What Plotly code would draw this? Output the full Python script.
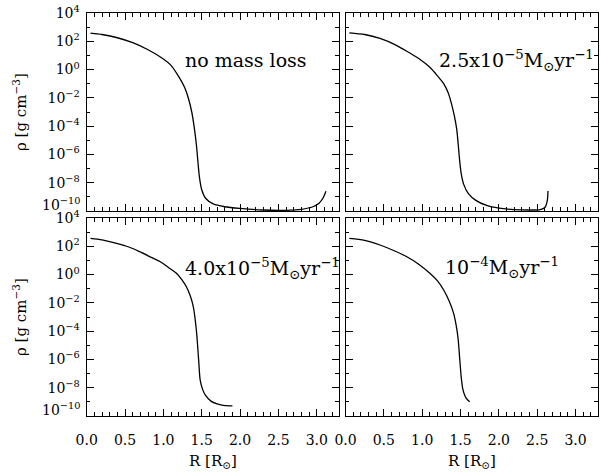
import plotly.graph_objects as go

# ---- data (R in solar radii, log10 of density in g cm^-3) ----
r_nomass = [0.05, 0.20, 0.40, 0.60, 0.80, 1.00, 1.10, 1.20, 1.28, 1.33, 1.37, 1.40, 1.43, 1.45, 1.47, 1.50, 1.55, 1.65, 1.80, 2.00, 2.30, 2.60, 2.80, 2.95, 3.03, 3.08, 3.12]
logrho_nomass = [2.58, 2.48, 2.25, 1.90, 1.40, 0.75, 0.30, -0.50, -1.30, -2.10, -3.00, -4.00, -5.30, -6.50, -7.60, -8.50, -9.10, -9.50, -9.70, -9.82, -9.93, -9.95, -9.88, -9.70, -9.45, -9.10, -8.60]

r_25 = [0.05, 0.25, 0.45, 0.65, 0.80, 0.95, 1.10, 1.20, 1.28, 1.34, 1.38, 1.42, 1.45, 1.47, 1.49, 1.51, 1.54, 1.60, 1.70, 1.84, 2.00, 2.20, 2.40, 2.54, 2.60, 2.63, 2.64]
logrho_25 = [2.60, 2.48, 2.20, 1.75, 1.30, 0.80, 0.16, -0.45, -0.99, -1.65, -2.37, -3.30, -4.21, -5.30, -6.51, -7.40, -8.10, -8.75, -9.25, -9.61, -9.80, -9.90, -9.93, -9.90, -9.75, -9.30, -8.58]

r_40 = [0.05, 0.20, 0.39, 0.55, 0.69, 0.85, 0.96, 1.08, 1.17, 1.24, 1.30, 1.35, 1.39, 1.43, 1.46, 1.48, 1.51, 1.55, 1.62, 1.70, 1.78, 1.86, 1.90]
logrho_40 = [2.56, 2.45, 2.21, 1.95, 1.62, 1.20, 0.91, 0.45, 0.09, -0.35, -0.86, -1.50, -2.27, -3.92, -6.05, -7.47, -8.10, -8.55, -8.95, -9.15, -9.25, -9.28, -9.28]

r_100 = [0.05, 0.25, 0.45, 0.65, 0.80, 0.95, 1.10, 1.20, 1.28, 1.35, 1.41, 1.45, 1.47, 1.49, 1.51, 1.53, 1.56, 1.59, 1.62]
logrho_100 = [2.56, 2.42, 2.09, 1.65, 1.26, 0.75, 0.09, -0.45, -1.09, -1.85, -2.74, -3.80, -4.63, -6.00, -7.30, -8.10, -8.60, -8.85, -8.99]

panel_labels = ["no mass loss",
                "2.5x10<sup>\u22125</sup>M<sub>\u2299</sub>yr<sup>\u22121</sup>",
                "4.0x10<sup>\u22125</sup>M<sub>\u2299</sub>yr<sup>\u22121</sup>",
                "10<sup>\u22124</sup>M<sub>\u2299</sub>yr<sup>\u22121</sup>"]

x_tick_vals = [0.0, 0.5, 1.0, 1.5, 2.0, 2.5, 3.0]
x_tick_text = ["0.0", "0.5", "1.0", "1.5", "2.0", "2.5", "3.0"]
y_tick_exps = [4, 2, 0, -2, -4, -6, -8]
y_minor_exps = [3, 1, -1, -3, -5, -7, -9]

# ---- figure geometry ----
W, H = 601, 473
FONT = "DejaVu Serif"

def px(x):
    return x / W

def py(y):
    return 1 - y / H

xdom_left = [px(86.7), px(339.0)]
xdom_right = [px(345.5), px(597.8)]
ydom_top = [py(211), py(13)]
ydom_bot = [py(416), py(218)]
x_range = [0, 3.29]

fig = go.Figure()

series = [(r_nomass, logrho_nomass), (r_25, logrho_25), (r_40, logrho_40), (r_100, logrho_100)]
for i, (r, lr) in enumerate(series):
    n = "" if i == 0 else str(i + 1)
    fig.add_trace(go.Scatter(
        x=r, y=[10 ** v for v in lr], mode="lines",
        line=dict(color="black", width=1.3, shape="spline", smoothing=0.8),
        xaxis="x" + n, yaxis="y" + n, showlegend=False, hoverinfo="skip"))

def xaxis(domain, anchor, labels):
    return dict(domain=domain, anchor=anchor, range=x_range,
                showline=True, linecolor="black", linewidth=1.3, mirror="allticks",
                ticks="inside", ticklen=7, tickwidth=1, tickcolor="black",
                tickvals=x_tick_vals, ticktext=x_tick_text,
                showticklabels=labels, ticklabelstandoff=11,
                minor=dict(ticks="inside", ticklen=3.5, tickwidth=1, tickcolor="black",
                           tickvals=[k / 10 for k in range(0, 34)]),
                showgrid=False, zeroline=False,
                tickfont=dict(family=FONT, size=14, color="black"))

def yaxis(domain, anchor, labels):
    return dict(domain=domain, anchor=anchor, type="log", range=[-10, 4],
                showline=True, linecolor="black", linewidth=1.3, mirror="allticks",
                ticks="inside", ticklen=7, tickwidth=1, tickcolor="black",
                tickvals=[10.0 ** e for e in y_tick_exps],
                ticktext=["10<sup>%s</sup>" % (str(e).replace("-", "\u2212")) for e in y_tick_exps],
                showticklabels=labels, ticklabelstandoff=3,
                minor=dict(ticks="inside", ticklen=3.5, tickwidth=1, tickcolor="black",
                           tickvals=[10.0 ** e for e in y_minor_exps]),
                showgrid=False, zeroline=False,
                tickfont=dict(family=FONT, size=14, color="black"))

fig.update_layout(
    width=W, height=H,
    margin=dict(l=0, r=0, t=0, b=0, autoexpand=False),
    paper_bgcolor="white", plot_bgcolor="white",
    font=dict(family=FONT, color="black"),
    xaxis=xaxis(xdom_left, "y", False),
    yaxis=yaxis(ydom_top, "x", True),
    xaxis2=xaxis(xdom_right, "y2", False),
    yaxis2=yaxis(ydom_top, "x2", False),
    xaxis3=xaxis(xdom_left, "y3", True),
    yaxis3=yaxis(ydom_bot, "x3", True),
    xaxis4=xaxis(xdom_right, "y4", True),
    yaxis4=yaxis(ydom_bot, "x4", False),
)

ann = []
# bottom 10^-10 labels (shifted up slightly as in the original)
for ypix in (204, 409):
    ann.append(dict(x=px(83.5), y=py(ypix), xref="paper", yref="paper", xanchor="right",
                    yanchor="middle", showarrow=False,
                    text="10<sup>\u221210</sup>", font=dict(family=FONT, size=14)))
# panel labels
label_pos = [(183, 60), (437, 60), (183, 268), (443, 267)]
for t, (lx, ly) in zip(panel_labels, label_pos):
    ann.append(dict(x=px(lx), y=py(ly), xref="paper", yref="paper", xanchor="left",
                    yanchor="middle", showarrow=False, text=t,
                    font=dict(family=FONT, size=19)))
# y titles
for ycen in (112, 317):
    ann.append(dict(x=px(20), y=py(ycen), xref="paper", yref="paper", textangle=-90,
                    xanchor="center", yanchor="middle", showarrow=False,
                    text="\u03c1 [g cm<sup>\u22123</sup>]", font=dict(family=FONT, size=15)))
# x titles
for xcen in (213, 472):
    ann.append(dict(x=px(xcen), y=py(461), xref="paper", yref="paper",
                    xanchor="center", yanchor="middle", showarrow=False,
                    text="R [R<sub>\u2299</sub>]", font=dict(family=FONT, size=15)))
fig.update_layout(annotations=ann)

fig.write_html("out.html", config={"displayModeBar": False},
               post_script="document.body.style.margin='0';document.body.style.overflow='hidden';")
